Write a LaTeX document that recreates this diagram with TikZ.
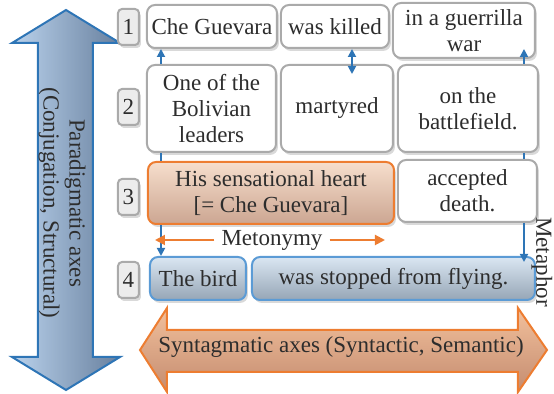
\documentclass[tikz,border=0pt]{standalone}
\usepackage{fontspec}
\setmainfont{Liberation Serif}
\usepackage{tikz}
\usetikzlibrary{positioning, shadows, backgrounds, arrows.meta}
\definecolor{txtgray}{RGB}{45,45,45}
\definecolor{boxgray}{RGB}{170,170,170}
\definecolor{axblue}{RGB}{46,117,182}
\definecolor{rowblue}{RGB}{91,155,213}
\definecolor{axorange}{RGB}{237,125,49}

\begin{document}
\begin{tikzpicture}[x=0.5pt, y=-0.5pt,
                font=\fontsize{11.5}{13}\selectfont, text=txtgray,
                W/.style = {draw=boxgray, line width=1pt, rounded corners=4pt, fill=white,
                            align=center, inner sep=1pt,
                            drop shadow={opacity=0.3, shadow xshift=1pt, shadow yshift=-1.5pt}},
                N/.style = {W, rounded corners=2pt, fill=gray!15, minimum width=10.5pt,
                            minimum height=18pt, inner sep=0pt},
                O/.style = {W, draw=axorange, top color={rgb,255:red,246;green,222;blue,204},
                            bottom color={rgb,255:red,204;green,166;blue,146}},
                B/.style = {W, draw=rowblue, top color={rgb,255:red,218;green,230;blue,242},
                            bottom color={rgb,255:red,150;green,166;blue,182}},
                link/.style = {axblue, line width=0.9pt},
                bt/.tip = {Triangle[length=4pt, width=4pt]},
                ot/.tip = {Triangle[length=5pt, width=5pt]}
                    ]
                \useasboundingbox (0,0) rectangle (554,394);
                % paradigmatic axis
                \path[draw=axblue, line width=1pt,
                      left color={rgb,255:red,186;green,210;blue,236},
                      right color={rgb,255:red,104;green,128;blue,158}]
                    (66,10) -- (120,43) -- (93,43) -- (93,357) -- (120,357) -- (66,390)
                    -- (12,357) -- (38,357) -- (38,43) -- (12,43) -- cycle;
                \node[rotate=-90, align=center] (para) at (62,203)
                    {Paradigmatic axes\\(Conjugation, Structural)};
                % syntagmatic axis
                \path[draw=axorange, line width=1pt,
                      top color={rgb,255:red,242;green,192;blue,156},
                      bottom color={rgb,255:red,196;green,140;blue,112}]
                    (140,350) -- (167,308) -- (167,330) -- (518,330) -- (518,308) -- (547,350)
                    -- (518,392) -- (518,372) -- (167,372) -- (167,392) -- cycle;
                \node (synt) at (341,347) {Syntagmatic axes (Syntactic, Semantic)};
                % row numbers
                \node[N] (n1) at (128.5,27) {1};
                \node[N] (n2) at (128.5,107) {2};
                \node[N] (n3) at (128.5,197) {3};
                \node[N] (n4) at (128.5,280) {4};
                % rows
                \node[W, minimum width=65pt, minimum height=21.5pt] (che) at (212,26.5) {Che Guevara};
                \node[W, minimum width=54pt, minimum height=21.5pt] (killed) at (335,26.5) {was killed};
                \node[W, minimum width=71pt, minimum height=27.5pt] (war) at (464,30.5) {in a guerrilla\\war};
                \node[W, minimum width=64.5pt, minimum height=43.5pt] (leader) at (211.5,108.5) {One of the\\Bolivian\\leaders};
                \node[W, minimum width=56pt, minimum height=43.5pt] (martyred) at (337,108.5) {martyred};
                \node[W, minimum width=70pt, minimum height=43.5pt] (battle) at (468,108.5) {on the\\battlefield.};
                \node[O, minimum width=123pt, minimum height=31pt] (heart) at (271,193) {His sensational heart\\{}[= Che Guevara]};
                \node[W, minimum width=69.5pt, minimum height=31pt] (death) at (467.5,191) {accepted\\death.};
                \node[B, minimum width=48pt, minimum height=21.5pt] (bird) at (198,278.5) {The bird};
                \node[B, minimum width=141.5pt, minimum height=21.5pt] (stopped) at (393.5,278.5) {was stopped from flying.};
                % connectors
                \draw[link, bt-] ([xshift=7.5pt]che.south west) -- ([xshift=7.5pt]che.south west |- leader.north);
                \draw[link] ([xshift=7.5pt]che.south west |- leader.south) -- ([xshift=7.5pt]che.south west |- heart.north);
                \draw[link, -bt] ([xshift=7.5pt]che.south west |- heart.south) -- ([xshift=7.5pt]che.south west |- bird.north);
                \draw[link, bt-, shorten <=-5pt] ([xshift=-6pt]war.south east) -- ([xshift=-6pt]war.south east |- battle.north);
                \draw[link] ([xshift=-6pt]war.south east |- battle.south) -- ([xshift=-6pt]war.south east |- death.north);
                \draw[link, -bt, shorten >=-3pt] ([xshift=-6pt]war.south east |- death.south) -- ([xshift=-6pt]war.south east |- stopped.north);
                \draw[link, bt-bt] ([xshift=8.5pt]killed.south) -- ([xshift=8.5pt,yshift=-5pt]killed.south |- martyred.north);
                \node[rotate=-90] (metaphor) at (542,262) {Metaphor};
                % metonymy
                \node (meto) at (272,240) {Metonymy};
                \coordinate (metoL) at (155,240);
                \coordinate (metoR) at (385,240);
                \draw[axorange, line width=1pt, -ot] (meto.west) -- (metoL);
                \draw[axorange, line width=1pt, -ot] (meto.east) -- (metoR);
            \end{tikzpicture}
\end{document}
